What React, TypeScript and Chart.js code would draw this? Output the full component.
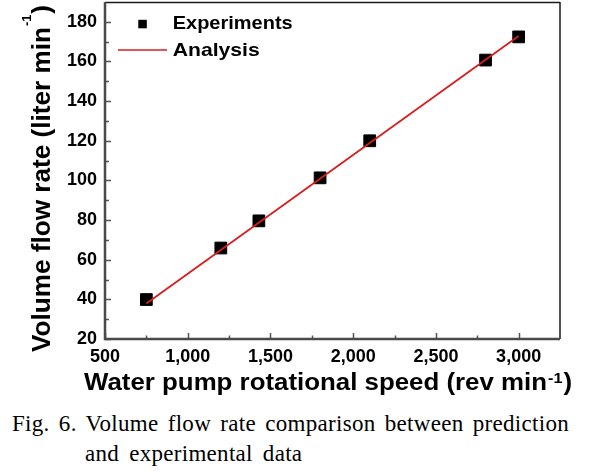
import React, { useEffect, useRef } from 'react';
import { Chart, registerables } from 'chart.js';

Chart.register(...registerables);

// ---- data ----
const speedExp = [750, 1200, 1430, 1800, 2100, 2800, 3000];
const flowExp = [39.9, 65.9, 79.6, 101.3, 120, 160.7, 172.4];
const speedAna = [750, 3000];
const flowAna = [37.9, 172.8];
const xMajorTicks = [500, 1000, 1500, 2000, 2500, 3000];
const xMinorTicks = [750, 1250, 1750, 2250, 2750];
const yMajorTicks = [20, 40, 60, 80, 100, 120, 140, 160, 180];
const yMinorTicks = [30, 50, 70, 90, 110, 130, 150, 170];
const xTitleMain = 'Water pump rotational speed (rev min';
const yTitleMain = 'Volume flow rate (liter min';
const supText = '-1';
const closeText = ')';
const legendLabels = ['Experiments', 'Analysis'];
const captionLine1 = 'Fig. 6. Volume flow rate comparison between prediction';
const captionLine2 = 'and experimental data';

const SANS = '"Liberation Sans", Arial, sans-serif';
const SERIF = '"Liberation Serif", "Times New Roman", serif';
const RED = '#d81e1e';

function drawTitle(
  ctx: CanvasRenderingContext2D,
  x: number,
  y: number,
  rot: number,
  main: string,
  fontPx: number,
  supPx: number,
  supRise: number,
  target: number
) {
  ctx.save();
  ctx.translate(x, y);
  ctx.rotate(rot);
  ctx.font = `bold ${fontPx}px ${SANS}`;
  const w = ctx.measureText(main).width;
  const sx = target / w;
  ctx.scale(sx, 1);
  ctx.fillStyle = '#000';
  ctx.textAlign = 'left';
  ctx.textBaseline = 'alphabetic';
  ctx.fillText(main, 0, 0);
  ctx.font = `bold ${supPx}px ${SANS}`;
  const sw = ctx.measureText(supText).width;
  ctx.fillText(supText, w + 1, -supRise);
  ctx.font = `bold ${fontPx}px ${SANS}`;
  ctx.fillText(closeText, w + sw + 2, 0);
  ctx.restore();
}

function drawFitText(
  ctx: CanvasRenderingContext2D,
  text: string,
  x: number,
  y: number,
  fontPx: number,
  target: number
) {
  ctx.save();
  ctx.font = `bold ${fontPx}px ${SANS}`;
  const w = ctx.measureText(text).width;
  ctx.translate(x, y);
  ctx.scale(target / w, 1);
  ctx.fillStyle = '#000';
  ctx.textAlign = 'left';
  ctx.textBaseline = 'alphabetic';
  ctx.fillText(text, 0, 0);
  ctx.restore();
}

const framePlugin = {
  id: 'frame',
  beforeDatasetsDraw(chart: any) {
    const { ctx, chartArea: a, scales } = chart;
    const xs = scales.x;
    const ys = scales.y;
    ctx.save();
    // top & right border
    ctx.strokeStyle = '#1a1a1a';
    ctx.lineWidth = 1.5;
    ctx.beginPath();
    ctx.moveTo(a.left, a.top + 0.5);
    ctx.lineTo(a.right, a.top + 0.5);
    ctx.moveTo(a.right, a.top);
    ctx.lineTo(a.right, a.bottom);
    ctx.stroke();
    // ticks (inward)
    ctx.strokeStyle = '#555';
    ctx.lineWidth = 1.5;
    ctx.beginPath();
    xMajorTicks.forEach((v) => {
      const px = Math.round(xs.getPixelForValue(v)) + 0.5;
      ctx.moveTo(px, a.bottom);
      ctx.lineTo(px, a.bottom - 6);
    });
    xMinorTicks.forEach((v) => {
      const px = Math.round(xs.getPixelForValue(v)) + 0.5;
      ctx.moveTo(px, a.bottom);
      ctx.lineTo(px, a.bottom - 3.5);
    });
    yMajorTicks.forEach((v) => {
      const py = Math.round(ys.getPixelForValue(v)) + 0.5;
      ctx.moveTo(a.left, py);
      ctx.lineTo(a.left + 6, py);
    });
    yMinorTicks.forEach((v) => {
      const py = Math.round(ys.getPixelForValue(v)) + 0.5;
      ctx.moveTo(a.left, py);
      ctx.lineTo(a.left + 4, py);
    });
    ctx.stroke();
    // left & bottom axes
    ctx.strokeStyle = '#4a4a4a';
    ctx.lineWidth = 2.5;
    ctx.beginPath();
    ctx.moveTo(a.left, a.top);
    ctx.lineTo(a.left, a.bottom);
    ctx.lineTo(a.right, a.bottom);
    ctx.stroke();
    ctx.restore();
  },
  afterDraw(chart: any) {
    const { ctx } = chart;
    // axis titles
    drawTitle(ctx, 84, 390, 0, xTitleMain, 24, 15, 7, 463);
    drawTitle(ctx, 50, 352, -Math.PI / 2, yTitleMain, 25, 12, 19, 325);
    // legend
    ctx.save();
    ctx.fillStyle = '#000';
    ctx.fillRect(138.3, 19.8, 8.5, 8.5);
    ctx.strokeStyle = RED;
    ctx.lineWidth = 1.5;
    ctx.beginPath();
    ctx.moveTo(118, 50);
    ctx.lineTo(167, 50);
    ctx.stroke();
    ctx.restore();
    drawFitText(ctx, legendLabels[0], 172.7, 28.5, 19, 120);
    drawFitText(ctx, legendLabels[1], 172.7, 55.5, 19, 87);
  },
};

export default function App() {
  const ref = useRef<HTMLCanvasElement | null>(null);

  useEffect(() => {
    if (!ref.current) return;
    const chart = new Chart(ref.current, {
      type: 'scatter',
      data: {
        datasets: [
          {
            label: legendLabels[1],
            data: speedAna.map((x, i) => ({ x, y: flowAna[i] })),
            showLine: true,
            borderColor: RED,
            borderWidth: 1.8,
            pointRadius: 0,
            fill: false,
          },
          {
            label: legendLabels[0],
            data: speedExp.map((x, i) => ({ x, y: flowExp[i] })),
            showLine: false,
            pointStyle: 'rect',
            pointRadius: 8.3,
            pointBackgroundColor: '#000',
            pointBorderColor: '#000',
            pointBorderWidth: 1,
          },
        ],
      },
      options: {
        responsive: false,
        animation: false,
        devicePixelRatio: 1,
        layout: { autoPadding: false, padding: { left: 0, right: 29, top: 2, bottom: 0 } },
        plugins: {
          legend: { display: false },
          tooltip: { enabled: false },
          title: { display: false },
        },
        scales: {
          x: {
            type: 'linear',
            min: 500,
            max: 3250,
            grid: { display: false, drawTicks: false },
            border: { display: false },
            afterBuildTicks: (s: any) => {
              s.ticks = xMajorTicks.map((v) => ({ value: v }));
            },
            afterFit: (s: any) => {
              s.height = 61;
              s.paddingLeft = 0;
              s.paddingRight = 0;
            },
            ticks: {
              padding: 7,
              color: '#000',
              maxRotation: 0,
              autoSkip: false,
              font: { family: SANS, size: 18, weight: 'bold' },
              callback: (v: any) => Number(v).toLocaleString('en-US'),
            },
          },
          y: {
            type: 'linear',
            min: 20,
            max: 190,
            grid: { display: false, drawTicks: false },
            border: { display: false },
            afterBuildTicks: (s: any) => {
              s.ticks = yMajorTicks.map((v) => ({ value: v }));
            },
            afterFit: (s: any) => {
              s.width = 105;
              s.paddingTop = 0;
              s.paddingBottom = 0;
            },
            ticks: {
              padding: 8,
              color: '#000',
              autoSkip: false,
              font: { family: SANS, size: 18, weight: 'bold' },
              callback: (v: any) => String(v),
            },
          },
        },
      },
      plugins: [framePlugin],
    } as any);
    return () => chart.destroy();
  }, []);

  return (
    <div
      style={{
        position: 'absolute',
        left: 0,
        top: 0,
        width: 589,
        height: 472,
        background: '#fff',
        overflow: 'hidden',
      }}
    >
      <canvas
        ref={ref}
        width={589}
        height={400}
        style={{ display: 'block', width: 589, height: 400 }}
      />
      <div
        style={{
          position: 'absolute',
          left: 12,
          top: 409,
          width: 557,
          fontFamily: SERIF,
          fontSize: 23,
          lineHeight: '30px',
          letterSpacing: 0.3,
          color: '#000',
          textAlign: 'justify',
          textAlignLast: 'justify' as any,
        }}
      >
        {captionLine1}
      </div>
      <div
        style={{
          position: 'absolute',
          left: 85,
          top: 439,
          fontFamily: SERIF,
          fontSize: 23,
          lineHeight: '30px',
          letterSpacing: 0.3,
          color: '#000',
          wordSpacing: 4,
          whiteSpace: 'nowrap',
        }}
      >
        {captionLine2}
      </div>
    </div>
  );
}
